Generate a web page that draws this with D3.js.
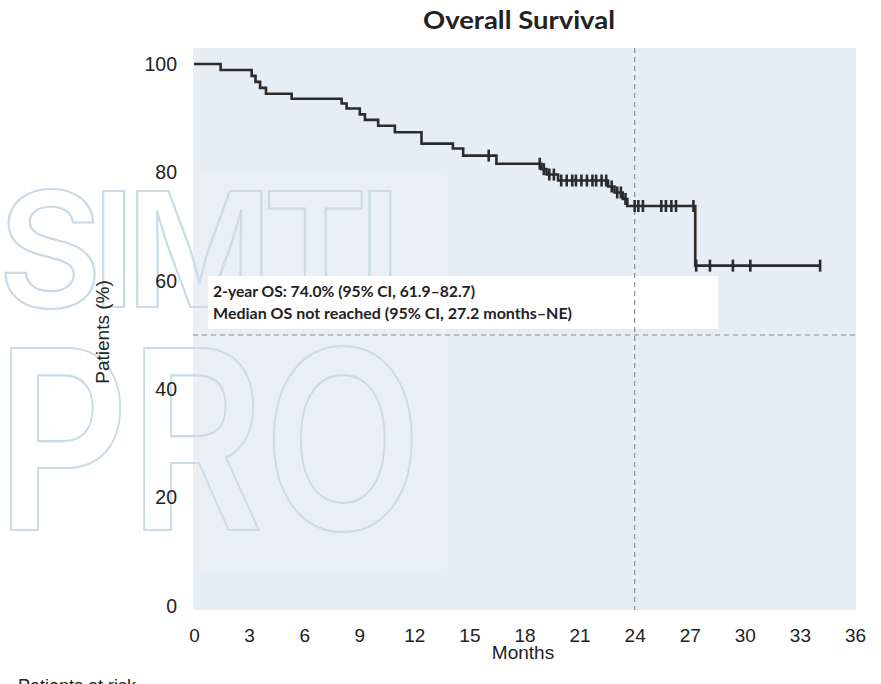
<!DOCTYPE html>
<html>
<head>
<meta charset="utf-8">
<script src="https://cdn.jsdelivr.net/npm/d3@7"></script>
<style>
  body { margin: 0; background: #fff; }
  svg { display: block; }
</style>
</head>
<body>
<svg id="chart"></svg>
<script>
// Data
const eventMonths = [1.45, 3.14, 3.35, 3.6, 3.92, 5.32, 8.04, 8.31, 9.03, 9.31, 10.03, 10.94,
  12.39, 14.1, 14.66, 16.47, 18.92, 19.2, 19.83, 22.55, 22.9, 23.35, 23.6, 27.3];
const survivalPct = [98.9, 97.8, 96.7, 95.6, 94.5, 93.6, 92.7, 91.8, 90.7, 89.7, 88.6, 87.4,
  85.3, 84.4, 83.1, 81.6, 80.6, 79.6, 78.5, 77.4, 76.3, 75.1, 73.8, 62.8];
const censorMonths = [16.05, 18.83, 19.05, 19.35, 19.6, 20.0, 20.3, 20.6, 20.8, 21.1, 21.4,
  21.7, 21.9, 22.2, 22.45, 22.75, 23.05, 23.25, 23.5, 24.0, 24.2, 24.45, 25.45, 25.7,
  26.0, 26.25, 27.2, 27.35, 28.1, 29.35, 30.3, 34.1];
const xTicks = [0, 3, 6, 9, 12, 15, 18, 21, 24, 27, 30, 33, 36];
const yTicks = [0, 20, 40, 60, 80, 100];
const landmarkMonth = 24;
const medianLine = 50;
const annotationLines = [
  '2-year OS: 74.0% (95% CI, 61.9\u201382.7)',
  'Median OS not reached (95% CI, 27.2 months\u2013NE)'
];

// Constants
const width = 881;
const height = 684;
const panel = { left: 193, right: 856, top: 48, bottom: 610 };

const svg = d3.select('#chart')
  .attr('width', width)
  .attr('height', height);

const x = d3.scaleLinear().domain([0, 36]).range([194, 855]);
const y = d3.scaleLinear().domain([0, 100]).range([606, 64]);

// panel background
svg.append('rect')
  .attr('x', panel.left)
  .attr('y', panel.top)
  .attr('width', panel.right - panel.left)
  .attr('height', panel.bottom - panel.top)
  .attr('fill', '#e4eef4');

svg.append('rect')
  .attr('x', panel.left)
  .attr('y', 170)
  .attr('width', 254)
  .attr('height', 400)
  .attr('fill', '#fff')
  .attr('opacity', 0.15);

// watermark
const wm = svg.append('g')
  .attr('fill', 'none')
  .attr('stroke', '#cbdae3')
  .attr('stroke-width', 2.2)
  .attr('font-family', 'Inter, Roboto, sans-serif')
  .attr('font-weight', 600);

wm.append('text')
  .attr('x', -2)
  .attr('y', 307)
  .attr('font-size', 160)
  .attr('textLength', 404)
  .attr('lengthAdjust', 'spacing')
  .text('SIMTI');

wm.append('text')
  .attr('x', -4)
  .attr('y', 530)
  .attr('font-size', 250)
  .attr('textLength', 426)
  .attr('lengthAdjust', 'spacingAndGlyphs')
  .text('PRO');

// annotation box
svg.append('rect')
  .attr('x', 208)
  .attr('y', 276)
  .attr('width', 510)
  .attr('height', 53)
  .attr('fill', '#fff');

svg.selectAll('.note')
  .data(annotationLines)
  .enter()
  .append('text')
  .attr('class', 'note')
  .attr('x', 213)
  .attr('y', (d, i) => 297 + i * 21.6)
  .attr('font-family', 'Lato, "Open Sans", sans-serif')
  .attr('font-weight', 700)
  .attr('font-size', 16)
  .attr('fill', '#222')
  .attr('textLength', (d, i) => i === 0 ? 262 : 359)
  .attr('lengthAdjust', 'spacingAndGlyphs')
  .text(d => d);

// reference lines
svg.append('line')
  .attr('x1', x(landmarkMonth))
  .attr('x2', x(landmarkMonth))
  .attr('y1', panel.top)
  .attr('y2', panel.bottom)
  .attr('stroke', '#8a8f94')
  .attr('stroke-width', 1.2)
  .attr('stroke-dasharray', '5,4');

svg.append('line')
  .attr('x1', panel.left)
  .attr('x2', panel.right)
  .attr('y1', y(medianLine))
  .attr('y2', y(medianLine))
  .attr('stroke', '#8a8f94')
  .attr('stroke-width', 1.2)
  .attr('stroke-dasharray', '5,4');

// Kaplan-Meier curve
const survivalAt = t => {
  const i = d3.bisectRight(eventMonths, t);
  return i === 0 ? 100 : survivalPct[i - 1];
};

const lastMonth = d3.max(censorMonths);
const points = [[0, 100]]
  .concat(eventMonths.map((m, i) => [m, survivalPct[i]]))
  .concat([[lastMonth, survivalAt(lastMonth)]]);

const line = d3.line()
  .x(d => x(d[0]))
  .y(d => y(d[1]))
  .curve(d3.curveStepAfter);

svg.append('path')
  .datum(points)
  .attr('d', line)
  .attr('fill', 'none')
  .attr('stroke', '#2b2b2b')
  .attr('stroke-width', 2.6);

// censor marks
svg.selectAll('.censor')
  .data(censorMonths)
  .enter()
  .append('line')
  .attr('class', 'censor')
  .attr('x1', d => x(d))
  .attr('x2', d => x(d))
  .attr('y1', d => y(survivalAt(d)) - 6)
  .attr('y2', d => y(survivalAt(d)) + 6)
  .attr('stroke', '#2b2b2b')
  .attr('stroke-width', 2.6);

// axes (labels only)
const xAxis = svg.append('g')
  .attr('transform', `translate(0,${panel.bottom})`)
  .call(d3.axisBottom(x).tickValues(xTicks).tickSize(0).tickPadding(19));
xAxis.select('.domain').remove();
xAxis.selectAll('text')
  .attr('font-family', '"Liberation Sans", Arial, sans-serif')
  .attr('font-size', 19)
  .attr('fill', '#222');

const yAxis = svg.append('g')
  .attr('transform', 'translate(177,0)')
  .call(d3.axisLeft(y).tickValues(yTicks).tickSize(0).tickPadding(0));
yAxis.select('.domain').remove();
yAxis.selectAll('text')
  .attr('font-family', '"Liberation Sans", Arial, sans-serif')
  .attr('font-size', 19.5)
  .attr('fill', '#222');

// titles
svg.append('text')
  .attr('x', 519)
  .attr('y', 29)
  .attr('text-anchor', 'middle')
  .attr('font-family', 'Lato, "Open Sans", sans-serif')
  .attr('font-weight', 700)
  .attr('font-size', 24)
  .attr('fill', '#222')
  .attr('textLength', 192)
  .attr('lengthAdjust', 'spacingAndGlyphs')
  .text('Overall Survival');

svg.append('text')
  .attr('transform', 'translate(109,332) rotate(-90)')
  .attr('text-anchor', 'middle')
  .attr('font-family', '"Liberation Sans", Arial, sans-serif')
  .attr('font-size', 19)
  .attr('fill', '#222')
  .text('Patients (%)');

svg.append('text')
  .attr('x', 523)
  .attr('y', 659)
  .attr('text-anchor', 'middle')
  .attr('font-family', '"Liberation Sans", Arial, sans-serif')
  .attr('font-size', 19)
  .attr('fill', '#222')
  .text('Months');

svg.append('text')
  .attr('x', 18)
  .attr('y', 692)
  .attr('font-family', '"Liberation Sans", Arial, sans-serif')
  .attr('font-size', 18)
  .attr('fill', '#222')
  .text('Patients at risk');
</script>
</body>
</html>
